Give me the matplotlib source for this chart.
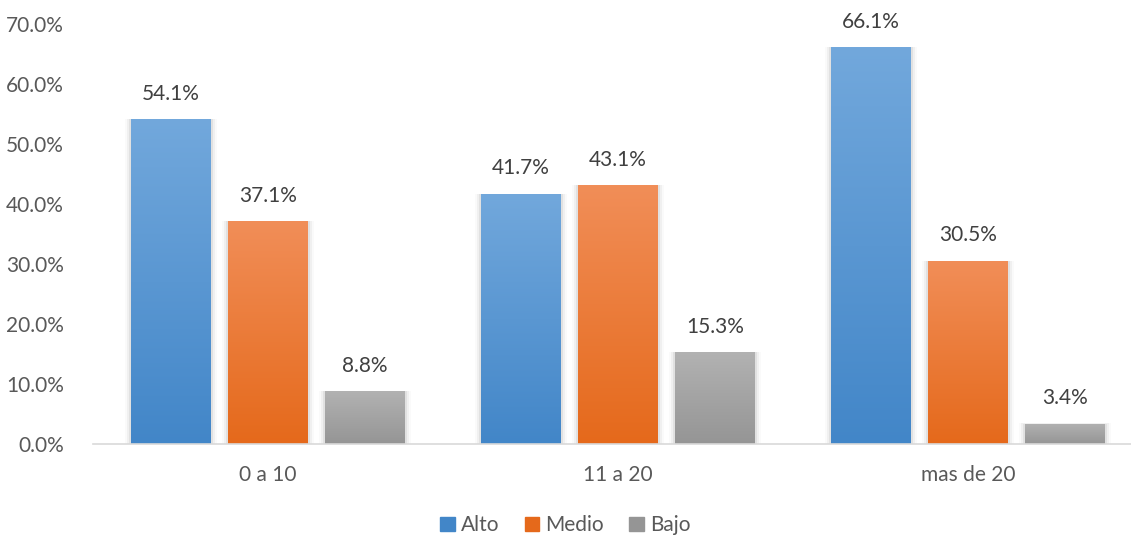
import numpy as np
import matplotlib.pyplot as plt
from matplotlib.patches import Patch
from matplotlib.colors import LinearSegmentedColormap
from matplotlib.ticker import FuncFormatter

categories = ["0 a 10", "11 a 20", "mas de 20"]
series = ["Alto", "Medio", "Bajo"]
alto = [54.1, 41.7, 66.1]
medio = [37.1, 43.1, 30.5]
bajo = [8.8, 15.3, 3.4]

# top / bottom colours of each series gradient
grad_colors = {
    "Alto": ("#72a8dc", "#4286c8"),
    "Medio": ("#f18e58", "#e5691b"),
    "Bajo": ("#b2b2b2", "#959595"),
}

plt.rcParams['font.family'] = ['Lato', 'DejaVu Sans']
fs = 15

fig = plt.figure(figsize=(11.31, 5.39), dpi=100)
ax = fig.add_axes([93 / 1131, 95 / 539, 1050 / 1131, 420 / 539])

x = np.arange(len(categories))
width = 80 / 350
step = 97 / 350

values = [alto, medio, bajo]
for i, (name, vals) in enumerate(zip(series, values)):
    top, bottom = grad_colors[name]
    cmap = LinearSegmentedColormap.from_list(name, [bottom, top])
    bars = ax.bar(x + (i - 1) * step, vals, width, color=top, zorder=2)
    for bar, v in zip(bars, vals):
        x0, y0 = bar.get_x(), 0
        x1, y1 = x0 + bar.get_width(), bar.get_height()
        # soft shadow behind the bar
        for k, a in enumerate([0.06, 0.04, 0.02]):
            d = 0.006 * (k + 1)
            ax.add_patch(plt.Rectangle((x0 - d, y0), x1 - x0 + 2 * d, y1 + d * 1.6,
                                       color="black", alpha=a, lw=0, zorder=1))
        grad = np.linspace(0, 1, 256).reshape(-1, 1)
        im = ax.imshow(grad, extent=[x0, x1, y0, y1], origin="lower",
                       cmap=cmap, aspect="auto", zorder=3)
        im.set_clip_path(bar)
        ax.text(bar.get_x() + bar.get_width() / 2, v + 2.6, f"{v:.1f}%",
                ha="center", va="bottom", fontsize=fs, color="#404040")

ax.set_xlim(-0.5, 2.5)
ax.set_ylim(0, 70)
ax.set_yticks(np.arange(0, 71, 10))
ax.yaxis.set_major_formatter(FuncFormatter(lambda v, p: f"{v:.1f}%"))
ax.set_xticks(x)
ax.set_xticklabels(categories)
ax.tick_params(axis="both", length=0, labelsize=fs, labelcolor="#595959")
ax.tick_params(axis="x", pad=15)
ax.tick_params(axis="y", pad=21)

for s in ["top", "right", "left"]:
    ax.spines[s].set_visible(False)
ax.spines["bottom"].set_color("#d9d9d9")
ax.spines["bottom"].set_linewidth(1.2)
ax.spines["bottom"].set_zorder(4)

handles = [Patch(color=grad_colors[n][1]) for n in series]
fig.legend(handles, series, loc="lower center", bbox_to_anchor=(0.5, -0.028),
           ncol=3, frameon=False, fontsize=fs, labelcolor="#595959",
           handlelength=0.7, handleheight=0.7, handletextpad=0.3, columnspacing=1.2)

fig.savefig("out.png", dpi=100)
